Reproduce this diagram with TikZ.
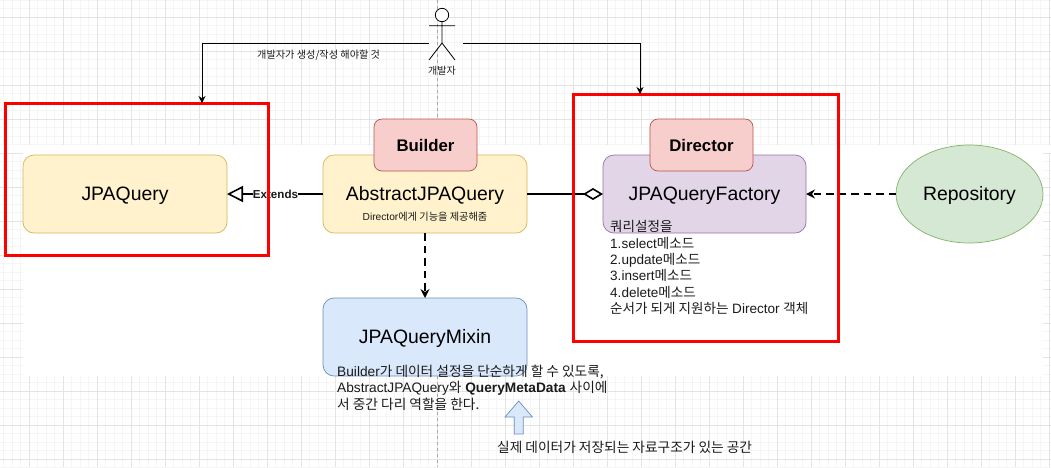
\documentclass[tikz,border=0pt]{standalone}
\usepackage{fontspec}
\setmainfont{Liberation Sans}
\newfontfamily\krfont{Noto Sans CJK KR}
\newcommand{\K}[1]{{\krfont #1}}
\usetikzlibrary{arrows.meta,shapes.geometric}
\definecolor{txt}{HTML}{1A1A1A}
\definecolor{gridmaj}{HTML}{E4E4E4}
\definecolor{gridmin}{HTML}{F5F5F5}
\definecolor{yellowfill}{HTML}{FFF2CC}
\definecolor{yellowline}{HTML}{D6B656}
\definecolor{pinkfill}{HTML}{F8CECC}
\definecolor{pinkline}{HTML}{B85450}
\definecolor{purplefill}{HTML}{E1D5E7}
\definecolor{purpleline}{HTML}{9673A6}
\definecolor{bluefill}{HTML}{DAE8FC}
\definecolor{blueline}{HTML}{6C8EBF}
\definecolor{greenfill}{HTML}{D5E8D4}
\definecolor{greenline}{HTML}{82B366}
\tikzset{
  x=1pt,y=-1pt,
  bigtext/.style={font=\fontsize{19.4}{22}\selectfont,text height=14pt,text depth=0.8pt,text=black},
  rbox/.style={draw,rounded corners=11pt,line width=0.7pt,anchor=north west,inner sep=0pt,outer sep=0pt,bigtext},
  yellowbox/.style={rbox,fill=yellowfill,draw=yellowline},
  pinkbox/.style={rbox,fill=pinkfill,draw=pinkline,rounded corners=8pt,font=\fontsize{16.8}{20}\selectfont\bfseries,text height=13pt,text depth=0pt},
  purplebox/.style={rbox,fill=purplefill,draw=purpleline},
  bluebox/.style={rbox,fill=bluefill,draw=blueline},
  redframe/.style={draw=red,line width=3pt,anchor=north west,inner sep=0pt,outer sep=0pt},
  plaintxt/.style={text=txt,inner sep=0pt,anchor=west,align=left,font=\fontsize{13.6}{16.3}\selectfont},
  conn/.style={draw=black,line width=0.9pt,-{Stealth[length=7pt,width=7pt]}},
  heavy/.style={draw=black,line width=1.6pt},
  dashconn/.style={heavy,dash pattern=on 7.5pt off 5pt,-{Stealth[length=9pt,width=9pt,inset=3pt]}},
  actorline/.style={draw=black,line width=0.8pt},
  pagebreak/.style={draw=gray!70,line width=0.6pt,dash pattern=on 3pt off 3pt},
}
\begin{document}
\begin{tikzpicture}
\useasboundingbox (0,0) rectangle (1051,467);
% background grid
\foreach \i in {0,...,124}{
  \draw[gridmin,line width=0.8pt] ({3.8+8.5*\i},0) -- ({3.8+8.5*\i},467);
}
\foreach \i in {0,...,55}{
  \draw[gridmin,line width=0.8pt] (0,{0.3+8.5*\i}) -- (1051,{0.3+8.5*\i});
}
\foreach \i in {0,...,30}{
  \draw[gridmaj,line width=0.8pt] ({29.3+34*\i},0) -- ({29.3+34*\i},467);
}
\foreach \i in {0,...,13}{
  \draw[gridmaj,line width=0.8pt] (0,{17.3+34*\i}) -- (1051,{17.3+34*\i});
}
% white sheet behind the diagram
\fill[white] (23,145) rectangle (1043,376);
\fill[white] (0,145) rectangle (1051,153);
% page-break lines
\draw[pagebreak] (437,0) -- (437,145);
\draw[pagebreak] (437,376) -- (437,467);

% boxes
\node[yellowbox,minimum width=204pt,minimum height=78pt] (jpaquery) at (23,155) {JPAQuery};
\node[yellowbox,minimum width=204pt,minimum height=78pt] (abstract) at (323,155) {AbstractJPAQuery};
\node[purplebox,minimum width=203pt,minimum height=78pt] (factory) at (603,155) {JPAQueryFactory};
\node[bluebox,minimum width=204pt,minimum height=78pt] (mixin) at (323,298) {JPAQueryMixin};
\node[draw=greenline,fill=greenfill,ellipse,line width=0.7pt,minimum width=147pt,minimum height=98pt,inner sep=0pt,outer sep=0pt,bigtext] (repo) at (969.5,194) {Repository};
\node[pinkbox,minimum width=103pt,minimum height=52pt] (builder) at (374,119) {Builder};
\node[pinkbox,minimum width=103pt,minimum height=52pt] (director) at (650,119) {Director};

% connectors between boxes
\draw[heavy,-{Triangle[open,length=16pt,width=16pt,line width=1.6pt]}] (abstract.west) -- node[pos=0.495,fill=white,inner sep=0pt,font=\fontsize{11.6}{14}\selectfont\bfseries,text=txt] (extends) {Extends} (jpaquery.east);
\draw[heavy,{Diamond[open,length=20pt,width=12pt,line width=1.6pt]}-] (factory.west) -- (abstract.east);
\draw[dashconn] (abstract.south) -- (mixin.north);
\draw[dashconn] (repo.west) -- (factory.east);

% red frames
\node[redframe,minimum width=263pt,minimum height=152pt] (frameL) at (5,103) {};
\node[redframe,minimum width=265pt,minimum height=247pt] (frameR) at (573,94) {};

% actor
\node[circle,draw=black,fill=white,line width=0.8pt,minimum size=13.4pt,inner sep=0pt,outer sep=0pt] (head) at (442,15) {};
\coordinate (hip) at (442,43);
\coordinate (armL) at (429,25.7);
\coordinate (armR) at (455,25.7);
\coordinate (legL) at (429,60);
\coordinate (legR) at (455,60);
\draw[actorline] (head.south) -- (hip) (armL) -- (armR) (legL) -- (hip) -- (legR);
\node[plaintxt,anchor=center,font=\fontsize{10}{12}\selectfont] (actorname) at (442,71) {\K{개발자}};
\coordinate (actorW) at (429,43);
\coordinate (actorE) at (463,43);
\coordinate (targetL) at (202,103);
\coordinate (targetR) at (640,94);
\draw[conn] (actorW) -| (targetL);
\draw[conn] (actorE) -| (targetR);
\node[plaintxt,font=\fontsize{10.15}{12}\selectfont] (devnote) at (257,55) {\K{개발자가 생성/작성 해야할 것}};

% texts
\node[plaintxt,anchor=center,font=\fontsize{10.2}{12}\selectfont] (abstractnote) at (425,217) {Director\K{에게 기능을 제공해줌}};
\node[plaintxt,anchor=north west,font=\fontsize{13.55}{16.3}\selectfont] (factorynote) at (610,220.5) {\K{쿼리설정을}\\1.select\K{메소드}\\2.update\K{메소드}\\3.insert\K{메소드}\\4.delete\K{메소드}\\\K{순서가 되게 지원하는} Director \K{객체}};
\node[plaintxt,anchor=north west,font=\fontsize{13.7}{16.3}\selectfont] (mixinnote) at (337,365) {Builder\K{가 데이터 설정을 단순하게 할 수 있도록,}\\AbstractJPAQuery\K{와} \textbf{QueryMetaData} \K{사이에}\\\K{서 중간 다리 역할을 한다.}};

% block arrow
\draw[draw=blueline,fill=bluefill,line width=0.7pt,line join=miter]
  (514.3,434) -- (514.3,417) -- (505,417) -- (518.7,401) -- (532.4,417) -- (523.3,417) -- (523.3,434) -- cycle;
\node[plaintxt,font=\fontsize{13.7}{16.3}\selectfont] (storagenote) at (497,447) {\K{실제 데이터가 저장되는 자료구조가 있는 공간}};
\end{tikzpicture}
\end{document}
